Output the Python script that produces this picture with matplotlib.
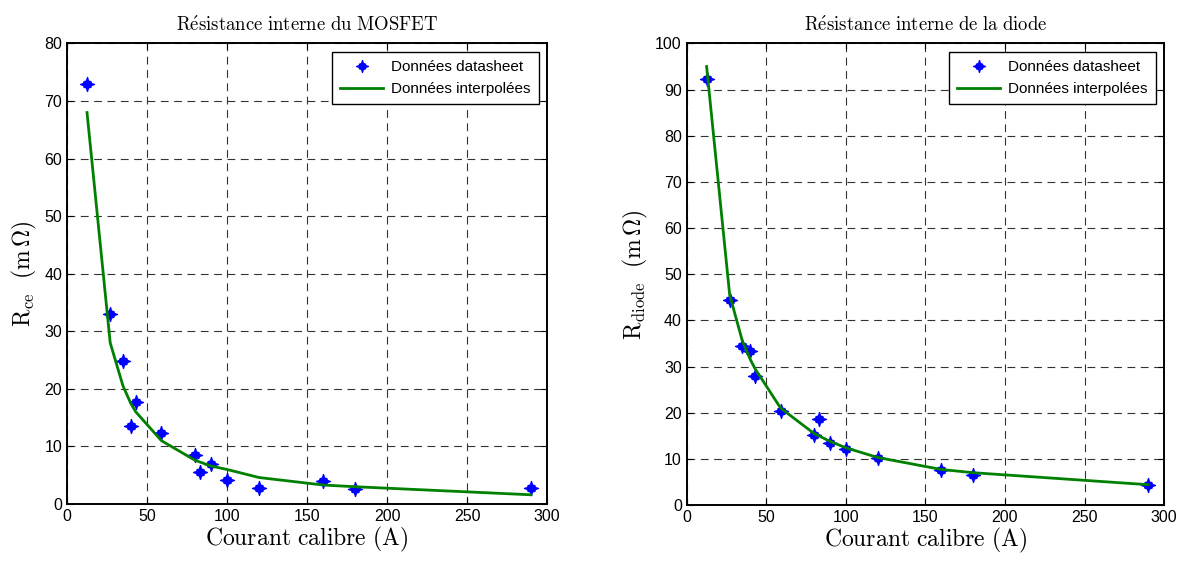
import numpy as np
import matplotlib
matplotlib.use('Agg')
import matplotlib.pyplot as plt
from matplotlib.path import Path

plt.rcParams['mathtext.fontset'] = 'cm'
plt.rcParams['font.family'] = ['Liberation Sans', 'DejaVu Sans']

# courant calibre (A)
courant = [12.5, 27, 35, 40, 43, 59, 80, 83, 90, 100, 120, 160, 180, 290]

# MOSFET : datasheet et interpolation
r_ce_data = [73, 33, 24.8, 13.5, 17.8, 12.3, 8.5, 5.5, 7.0, 4.1, 2.8, 4.0, 2.6, 2.8]
r_ce_fit = [68, 28, 20.5, 17.4, 16.0, 11.0, 7.6, 7.3, 6.6, 6.0, 4.6, 3.3, 3.0, 1.6]

# diode : datasheet et interpolation
r_diode_data = [92.3, 44.4, 34.4, 33.3, 27.9, 20.4, 15.2, 18.7, 13.4, 12.2, 10.1, 7.6, 6.5, 4.3]
r_diode_fit = [95, 45.5, 35.5, 31.5, 29.5, 21.0, 15.5, 15.0, 13.8, 12.4, 10.3, 7.7, 7.0, 4.4]

# marqueur en croix "diamant" facon matlab
star = Path([(0, 1), (0.15, 0.5), (0.5, 0.4), (0.55, 0.15), (1, 0),
             (0.55, -0.15), (0.5, -0.4), (0.15, -0.5), (0, -1),
             (-0.15, -0.5), (-0.5, -0.4), (-0.55, -0.15), (-1, 0),
             (-0.55, 0.15), (-0.5, 0.4), (-0.15, 0.5), (0, 1)], closed=True)

fig = plt.figure(figsize=(11.84, 5.61), dpi=100)
ax1 = fig.add_axes([0.0566, 0.1016, 0.4054, 0.8209])
ax2 = fig.add_axes([0.5800, 0.0998, 0.4032, 0.8227])


def style_axes(ax, ylim, yticks, title, ylabel):
    ax.set_xlim(0, 300)
    ax.set_ylim(*ylim)
    ax.set_xticks(np.arange(0, 301, 50))
    ax.set_yticks(yticks)
    ax.grid(True, color='0.2', linestyle=(0, (7, 5)), linewidth=0.8)
    ax.tick_params(direction='in', top=True, right=True, labelsize=11.5, length=4)
    for s in ax.spines.values():
        s.set_linewidth(1.4)
    ax.set_title(title, fontsize=13.5, pad=9)
    ax.set_xlabel(r'$\mathrm{Courant\ calibre\ (A)}$', fontsize=17, labelpad=1)
    ax.set_ylabel(ylabel, fontsize=17, labelpad=4)
    leg = ax.legend(loc='upper right', fontsize=11, fancybox=False,
                    edgecolor='black', framealpha=1, borderaxespad=0.55,
                    handlelength=2.8, borderpad=0.55, labelspacing=0.5,
                    handletextpad=0.5, markerscale=0.85)
    leg.get_frame().set_linewidth(1.0)


ax1.plot(courant, r_ce_data, linestyle='none', marker=star, color='blue',
         markersize=10, label='Données datasheet')
ax1.plot(courant, r_ce_fit, color='green', linewidth=2, label='Données interpolées')
style_axes(ax1, (0, 80), np.arange(0, 81, 10),
           r'$\mathrm{R\acute{e}sistance\ interne\ du\ MOSFET}$',
           r'$\mathrm{R_{ce}}\ \ (\mathrm{m\,\Omega})$')

ax2.plot(courant, r_diode_data, linestyle='none', marker=star, color='blue',
         markersize=10, label='Données datasheet')
ax2.plot(courant, r_diode_fit, color='green', linewidth=2, label='Données interpolées')
style_axes(ax2, (0, 100), np.arange(0, 101, 10),
           r'$\mathrm{R\acute{e}sistance\ interne\ de\ la\ diode}$',
           r'$\mathrm{R_{diode}}\ \ (\mathrm{m\,\Omega})$')

fig.savefig('out.png', dpi=100)
